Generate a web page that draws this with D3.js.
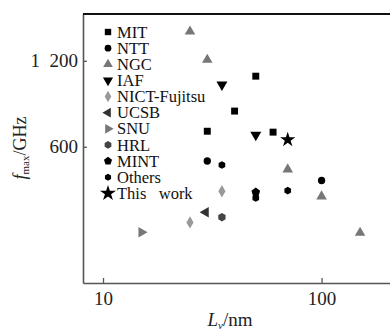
<!DOCTYPE html>
<html>
<head>
<meta charset="utf-8">
<script src="https://cdn.jsdelivr.net/npm/d3@7"></script>
<style>
  body { margin: 0; background: #fff; }
  svg { display: block; font-family: "Liberation Serif", "Times New Roman", serif; }
</style>
</head>
<body>
<div id="chart"></div>
<script>
'use strict';

// data: [gate length nm, fmax GHz]
const labels = ['MIT', 'NTT', 'NGC', 'IAF', 'NICT-Fujitsu', 'UCSB', 'SNU', 'HRL', 'MINT', 'Others', 'This work']
const mit = [[50, 1060], [40, 800], [30, 680], [60, 675]]
const ntt = [[30, 535], [100, 457]]
const ngc = [[25, 1520], [30, 1210], [70, 500], [100, 402], [150, 300]]
const iaf = [[35, 990], [50, 660]]
const nict = [[35, 419], [25, 326]]
const ucsb = [[29.5, 354]]
const snu = [[15, 301]]
const hrl = [[35, 340]]
const mint = [[50, 416]]
const others = [[35, 518], [50, 397], [70, 421]]
const thisWork = [[70, 635]]
const xTicks = [10, 100]
const yTicks = [600, 1200]

const W = 390, H = 331
const margin = {top: 14, right: -2, bottom: 48, left: 83}

// custom polygon symbols (d3 has no hexagon / pentagon)
const polygon = (n, rot) => ({
  draw(ctx, size) {
    const r = Math.sqrt(size / (n / 2 * Math.sin(2 * Math.PI / n)))
    for (let i = 0; i < n; i++) {
      const a = rot + i * 2 * Math.PI / n
      const x = r * Math.sin(a), y = -r * Math.cos(a)
      if (i === 0) ctx.moveTo(x, y); else ctx.lineTo(x, y)
    }
    ctx.closePath()
  }
})
const hexagon = polygon(6, 0)
const pentagon = polygon(5, 0)

const styles = {
  'MIT':          {data: mit,      type: d3.symbolSquare,   size: 48, rot: 0,   fill: '#000'},
  'NTT':          {data: ntt,      type: d3.symbolCircle,   size: 42, rot: 0,   fill: '#000'},
  'NGC':          {data: ngc,      type: d3.symbolTriangle, size: 48, rot: 0,   fill: '#777'},
  'IAF':          {data: iaf,      type: d3.symbolTriangle, size: 52, rot: 180, fill: '#000'},
  'NICT-Fujitsu': {data: nict,     type: d3.symbolDiamond,  size: 44, rot: 0,   fill: '#999'},
  'UCSB':         {data: ucsb,     type: d3.symbolTriangle, size: 48, rot: -90, fill: '#333'},
  'SNU':          {data: snu,      type: d3.symbolTriangle, size: 48, rot: 90,  fill: '#777'},
  'HRL':          {data: hrl,      type: hexagon,           size: 46, rot: 0,   fill: '#444'},
  'MINT':         {data: mint,     type: pentagon,          size: 50, rot: 0,   fill: '#000'},
  'Others':       {data: others,   type: hexagon,           size: 38, rot: 0,   fill: '#000'},
  'This work':    {data: thisWork, type: d3.symbolStar,     size: 72, rot: 0,   fill: '#000'}
}

const svg = d3.select('#chart').append('svg')
  .attr('width', W)
  .attr('height', H)

const x = d3.scaleLog().domain([8.1, 210]).range([margin.left, W - margin.right])
const y = d3.scaleLog().domain([200, 1750]).range([H - margin.bottom, margin.top])

// axes (ticks point inward)
const xAxis = svg.append('g')
  .attr('transform', `translate(0,${H - margin.bottom})`)
  .call(d3.axisBottom(x).tickValues(xTicks).tickFormat(d => d).tickSizeInner(-5).tickSizeOuter(0).tickPadding(8.5))
const yAxis = svg.append('g')
  .attr('transform', `translate(${margin.left},0)`)
  .call(d3.axisLeft(y).tickValues(yTicks).tickFormat(d => d === 1200 ? '1\u2002200' : d).tickSizeInner(-4).tickSizeOuter(0).tickPadding(5))

for (const g of [xAxis, yAxis]) {
  g.select('.domain').attr('stroke', '#555').attr('stroke-width', 1.6)
  g.selectAll('.tick line').attr('stroke', '#555').attr('stroke-width', 1.3)
  g.selectAll('.tick text')
    .attr('fill', '#222')
    .style('font-family', '"Liberation Serif", "Times New Roman", serif')
    .style('font-size', '19px')
}

// top frame line
svg.append('line')
  .attr('x1', margin.left).attr('x2', W)
  .attr('y1', margin.top).attr('y2', margin.top)
  .attr('stroke', '#111').attr('stroke-width', 2)

// points
const sym = d3.symbol()
for (const name of labels) {
  const s = styles[name]
  svg.append('g').selectAll('path')
    .data(s.data)
    .join('path')
      .attr('d', sym.type(s.type).size(s.size)())
      .attr('transform', d => `translate(${x(d[0])},${y(d[1])}) rotate(${s.rot})`)
      .attr('fill', s.fill)
}

// legend
const legend = svg.append('g').attr('transform', 'translate(108,32)')
legend.selectAll('g')
  .data(labels)
  .join('g')
    .attr('transform', (d, i) => `translate(0,${i * 16.13})`)
    .each(function(name) {
      const s = styles[name]
      const g = d3.select(this)
      g.append('path')
        .attr('d', sym.type(s.type).size(s.size * (name === 'This work' ? 1.1 : 0.85))())
        .attr('transform', `rotate(${s.rot})`)
        .attr('fill', s.fill)
      g.append('text')
        .attr('x', 9)
        .attr('dy', '0.34em')
        .attr('fill', '#111')
        .style('font-size', '16.5px')
        .text(name === 'This work' ? 'This\u00a0\u00a0\u00a0work' : name)
    })

// axis titles
const xt = svg.append('text')
  .attr('x', 230).attr('y', 326)
  .attr('text-anchor', 'middle')
  .attr('fill', '#222')
  .style('font-size', '19px')
xt.append('tspan').style('font-style', 'italic').text('L')
xt.append('tspan').style('font-style', 'italic').style('font-size', '11px').attr('dy', 3).text('v')
xt.append('tspan').attr('dy', -3).text('/nm')

const yt = svg.append('text')
  .attr('transform', 'translate(26,148) rotate(-90)')
  .attr('text-anchor', 'middle')
  .attr('fill', '#222')
  .style('font-size', '18px')
yt.append('tspan').style('font-style', 'italic').text('f')
yt.append('tspan').style('font-size', '11px').attr('dy', 3).text('max')
yt.append('tspan').attr('dy', -3).text('/GHz')
</script>
</body>
</html>
